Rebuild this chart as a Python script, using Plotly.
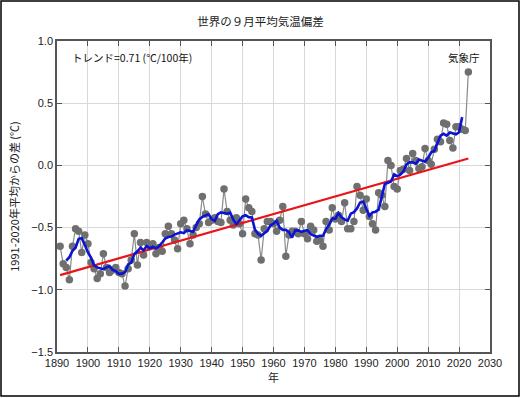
import numpy as np
import plotly.graph_objects as go

years = list(range(1891, 2024))
anom = [
    -0.65, -0.79, -0.82, -0.92, -0.65, -0.51, -0.53, -0.70, -0.56, -0.63,  # 1891-1900
    -0.78, -0.83, -0.91, -0.87, -0.71, -0.82, -0.86, -0.84, -0.82, -0.86,  # 1901-1910
    -0.87, -0.97, -0.83, -0.76, -0.55, -0.80, -0.62, -0.72, -0.62, -0.65,  # 1911-1920
    -0.63, -0.71, -0.66, -0.69, -0.55, -0.49, -0.55, -0.60, -0.67, -0.47,  # 1921-1930
    -0.44, -0.51, -0.63, -0.56, -0.50, -0.47, -0.25, -0.39, -0.46, -0.44,  # 1931-1940
    -0.42, -0.45, -0.46, -0.19, -0.37, -0.44, -0.48, -0.42, -0.47, -0.55,  # 1941-1950
    -0.27, -0.34, -0.37, -0.55, -0.56, -0.76, -0.51, -0.45, -0.45, -0.47,  # 1951-1960
    -0.53, -0.44, -0.33, -0.73, -0.56, -0.53, -0.53, -0.55, -0.45, -0.55,  # 1961-1970
    -0.59, -0.49, -0.52, -0.61, -0.60, -0.65, -0.45, -0.52, -0.34, -0.43,  # 1971-1980
    -0.40, -0.45, -0.30, -0.51, -0.51, -0.45, -0.17, -0.24, -0.36, -0.27,  # 1981-1990
    -0.41, -0.47, -0.52, -0.22, -0.24, -0.33, 0.04, 0.00, -0.17, -0.19,    # 1991-2000
    -0.04, -0.03, 0.055, -0.04, 0.095, 0.04, -0.025, -0.01, 0.135, 0.04,   # 2001-2010
    0.01, 0.13, 0.21, 0.19, 0.34, 0.33, 0.20, 0.14, 0.31, 0.31,            # 2011-2020
    0.29, 0.28, 0.75,                                                       # 2021-2023
]
x_ticks = list(range(1890, 2031, 10))
y_ticks = [1.0, 0.5, 0.0, -0.5, -1.0, -1.5]

title = "世界の９月平均気温偏差"
trend_label = "トレンド=0.71 (℃/100年)"
source_label = "気象庁"
y_title = "1991-2020年平均からの差 (℃)"
x_title = "年"

yrs = np.array(years, dtype=float)
vals = np.array(anom, dtype=float)

# 5-year running mean (centered)
rm = np.convolve(vals, np.ones(5) / 5, mode="valid")
rm_years = yrs[2:-2]

# linear trend
coef = np.polyfit(yrs, vals, 1)
trend = np.polyval(coef, yrs)

FONT = "Liberation Sans, Arial, Noto Sans CJK JP"
CJK = "Noto Sans CJK JP, Liberation Sans"

fig = go.Figure()
fig.add_trace(go.Scatter(
    x=yrs, y=vals, mode="lines+markers",
    line=dict(color="#8a8a8a", width=1.2),
    marker=dict(color="#6f6f6f", size=7.5, line=dict(color="#6f6f6f", width=0)),
    hoverinfo="skip", showlegend=False,
))
fig.add_trace(go.Scatter(
    x=yrs, y=trend, mode="lines",
    line=dict(color="#e8141a", width=2.2),
    showlegend=False,
))
fig.add_trace(go.Scatter(
    x=rm_years, y=rm, mode="lines",
    line=dict(color="#0a14d2", width=2.6),
    showlegend=False,
))

W, H = 521, 398
L, R, T, B = 57, 31, 41, 46
pw, ph = W - L - R, H - T - B

def px(xp):
    return (xp - L) / pw

def py(yp):
    return (H - B - yp) / ph

fig.update_layout(
    width=W, height=H,
    margin=dict(l=L, r=R, t=T, b=B),
    paper_bgcolor="white", plot_bgcolor="white",
    font=dict(family=FONT, size=11, color="#222222"),
    title=dict(text=title, x=0.5, xanchor="center", y=1 - 22 / H, yanchor="middle",
               font=dict(family=CJK, size=11.5, color="#222222")),
    xaxis=dict(
        range=[1890, 2030], tickvals=x_ticks, ticktext=[str(v) for v in x_ticks],
        showgrid=True, gridcolor="#d9d9d9", gridwidth=1,
        showline=True, linecolor="#555555", linewidth=1.5, mirror="ticks",
        ticks="inside", ticklen=5, tickcolor="#555555",
        zeroline=False, tickfont=dict(size=11, color="#222222"),
        title=dict(text=x_title, font=dict(family=CJK, size=11), standoff=6),
    ),
    yaxis=dict(
        range=[-1.5, 1.0], tickvals=y_ticks, tickformat=".1f",
        showgrid=True, gridcolor="#d9d9d9", gridwidth=1,
        showline=True, linecolor="#555555", linewidth=1.5, mirror="ticks",
        ticks="inside", ticklen=5, tickcolor="#555555",
        zeroline=False, tickfont=dict(size=11, color="#222222"),
        title=dict(text=y_title, font=dict(family=CJK, size=11), standoff=9),
    ),
    annotations=[
        dict(text=trend_label, xref="paper", yref="paper", x=px(70), y=py(57),
             xanchor="left", yanchor="middle", showarrow=False,
             font=dict(family=CJK, size=10.5, color="#111111")),
        dict(text=source_label, xref="paper", yref="paper", x=px(482), y=py(57),
             xanchor="right", yanchor="middle", showarrow=False,
             font=dict(family=CJK, size=10.5, color="#111111")),
    ],
    shapes=[
        dict(type="rect", xref="paper", yref="paper",
             x0=px(1), x1=px(519), y0=py(396), y1=py(1),
             line=dict(color="black", width=1.5), layer="above"),
    ],
)

fig.write_html(
    "out.html",
    config={"displayModeBar": False},
    post_script="document.body.style.margin='0';document.body.style.padding='0';",
)
